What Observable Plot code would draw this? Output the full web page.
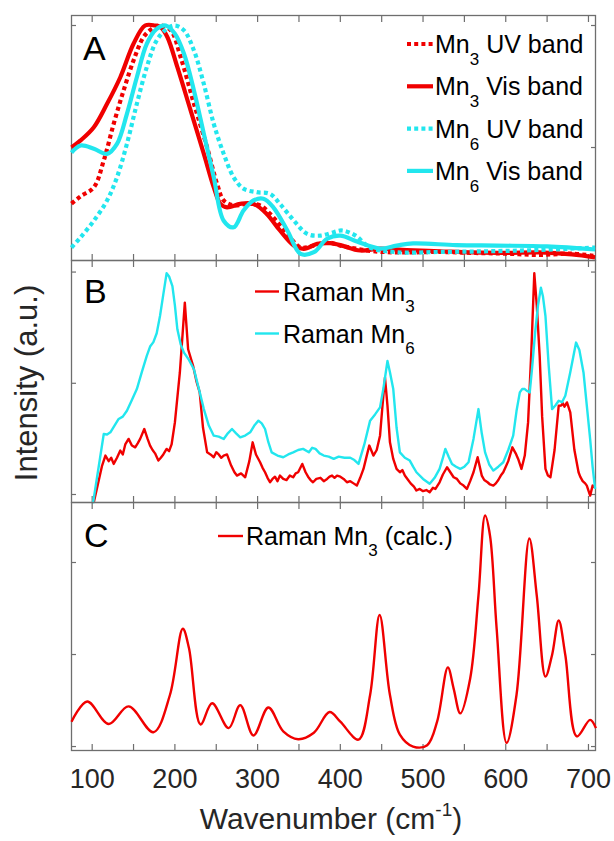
<!DOCTYPE html>
<html><head><meta charset="utf-8">
<script src="https://cdn.jsdelivr.net/npm/d3@7"></script>
<script src="https://cdn.jsdelivr.net/npm/@observablehq/plot@0.6"></script>
<style>
body{margin:0;background:#fff;}
#fig{position:relative;width:614px;height:841px;font-family:"Liberation Sans",Arial,Helvetica,sans-serif;overflow:hidden;}
#overlay{position:absolute;left:0;top:0;pointer-events:none;}
</style></head><body><div id="fig"></div>
<script>
// ---------- data (wavenumber cm-1, intensity a.u.) ----------
const xTicks = [100,150,200,250,300,350,400,450,500,550,600,650,700];
const xTickLabels = [100,200,300,400,500,600,700];
const yTicksA = [0.5, 1];
const yTicksB = [0, 1, 2];
const yTicksC = [0, 1, 2];

// Panel A: absorption-band profiles
const mn3UV = [[75,0.27],[86,0.30],[102,0.337],[114,0.447],[126,0.597],[138,0.734],[150,0.857],[162,0.952],[172,0.986],[182,1.0],[195,0.98],[207,0.87],[223,0.68],[239,0.50],[251,0.351],[259,0.283],[271,0.263],[287,0.269],[303,0.263],[319,0.214],[336,0.146],[352,0.091],[368,0.098],[384,0.112],[400,0.098],[420,0.085],[440,0.075],[470,0.07],[520,0.072],[560,0.068],[600,0.065],[640,0.06],[680,0.065],[708,0.055]];
const mn3Vis = [[75,0.50],[86,0.529],[102,0.583],[118,0.679],[134,0.788],[150,0.925],[164,1.0],[176,1.0],[183,0.993],[191,0.952],[203,0.829],[219,0.652],[235,0.474],[247,0.337],[255,0.269],[263,0.255],[279,0.269],[295,0.269],[311,0.228],[327,0.16],[344,0.098],[356,0.085],[372,0.105],[388,0.108],[400,0.10],[424,0.078],[448,0.086],[480,0.08],[520,0.075],[560,0.07],[600,0.068],[640,0.07],[680,0.062],[708,0.05]];
const mn6UV = [[75,0.09],[86,0.132],[102,0.20],[118,0.283],[130,0.378],[142,0.515],[154,0.679],[166,0.829],[178,0.939],[190,0.986],[200,1.0],[211,0.98],[223,0.898],[235,0.76],[247,0.597],[259,0.474],[271,0.378],[283,0.331],[299,0.317],[315,0.31],[327,0.269],[344,0.20],[360,0.146],[376,0.139],[392,0.153],[402,0.16],[418,0.14],[436,0.09],[468,0.071],[520,0.072],[580,0.075],[640,0.08],[708,0.09]];
const mn6Vis = [[75,0.479],[86,0.508],[102,0.495],[118,0.474],[130,0.515],[142,0.638],[154,0.788],[166,0.925],[178,0.986],[189,1.0],[200,0.966],[211,0.884],[223,0.734],[235,0.556],[247,0.378],[259,0.20],[271,0.173],[283,0.242],[295,0.283],[307,0.29],[319,0.255],[336,0.16],[352,0.064],[368,0.071],[384,0.126],[400,0.139],[420,0.115],[448,0.086],[468,0.098],[488,0.107],[540,0.10],[589,0.098],[650,0.095],[708,0.082]];

// Panel B: measured Raman spectra
const ramanMn3 = [[102,-0.07],[112,0.26],[116,0.35],[120,0.30],[123,0.33],[126,0.275],[130,0.33],[134,0.395],[137,0.36],[140,0.45],[144,0.50],[148,0.44],[152,0.424],[155,0.46],[158,0.50],[163,0.589],[167,0.50],[170,0.44],[173,0.40],[176,0.37],[180,0.305],[183,0.33],[186,0.36],[190,0.41],[193,0.39],[196,0.45],[200,0.648],[206,1.097],[212,1.725],[216,1.306],[222,1.157],[226,1.02],[230,0.918],[234,0.60],[239,0.379],[243,0.36],[247,0.335],[250,0.38],[253,0.36],[256,0.33],[259,0.35],[263,0.36],[268,0.26],[272,0.20],[275,0.17],[280,0.19],[285,0.155],[290,0.30],[294,0.469],[298,0.36],[303,0.29],[306,0.24],[309,0.20],[312,0.15],[315,0.11],[318,0.14],[321,0.16],[324,0.12],[327,0.17],[331,0.14],[335,0.13],[339,0.17],[343,0.155],[346,0.19],[349,0.20],[354,0.275],[358,0.20],[361,0.16],[364,0.13],[367,0.11],[371,0.14],[376,0.15],[380,0.12],[384,0.14],[387,0.16],[390,0.17],[393,0.15],[396,0.17],[400,0.16],[404,0.14],[408,0.11],[412,0.12],[416,0.10],[420,0.08],[424,0.15],[428,0.23],[431,0.32],[435,0.44],[440,0.35],[444,0.40],[448,0.529],[451,0.80],[454,1.052],[457,0.80],[460,0.469],[464,0.32],[468,0.23],[472,0.20],[475,0.22],[478,0.17],[482,0.13],[485,0.10],[489,0.07],[492,0.036],[496,0.05],[500,0.03],[504,0.04],[508,0.02],[512,0.06],[515,0.05],[520,0.11],[524,0.18],[529,0.245],[533,0.20],[537,0.155],[541,0.14],[545,0.10],[549,0.08],[553,0.05],[557,0.12],[561,0.20],[566,0.335],[571,0.17],[574,0.13],[578,0.11],[581,0.09],[585,0.08],[588,0.10],[591,0.13],[594,0.17],[597,0.20],[600,0.25],[603,0.30],[608,0.424],[612,0.37],[615,0.32],[619,0.23],[623,0.35],[627,0.648],[631,1.30],[634.5,1.99],[637.5,1.70],[641,1.247],[644,0.70],[648,0.23],[651,0.17],[654,0.155],[656,0.25],[659,0.40],[664,0.798],[667,0.80],[669,0.82],[671,0.79],[674,0.828],[678,0.738],[683,0.40],[688,0.20],[690,0.16],[693,0.12],[696,0.10],[698,0.08],[702,-0.01],[705,0.08],[708,0.065]];
const ramanMn6 = [[101,-0.08],[114,0.544],[118,0.54],[122,0.559],[127,0.62],[132,0.679],[137,0.70],[142,0.753],[148,0.85],[154,0.948],[160,1.10],[166,1.247],[170,1.33],[174,1.37],[178,1.45],[182,1.605],[186,1.80],[190,1.99],[193,1.96],[197,1.874],[200,1.70],[203,1.485],[207,1.35],[211,1.276],[217,1.21],[223,1.126],[229,0.95],[235,0.768],[241,0.62],[247,0.529],[253,0.52],[259,0.499],[264,0.55],[269,0.589],[274,0.55],[279,0.514],[285,0.53],[291,0.559],[296,0.62],[301,0.664],[305,0.64],[309,0.589],[313,0.47],[317,0.379],[324,0.35],[331,0.335],[337,0.36],[343,0.379],[349,0.40],[355,0.41],[362,0.38],[366,0.42],[370,0.41],[375,0.37],[380,0.35],[386,0.34],[392,0.32],[398,0.34],[405,0.33],[412,0.33],[417,0.31],[422,0.275],[429,0.45],[436,0.664],[442,0.72],[448,0.783],[452,0.95],[457,1.20],[460,1.10],[464,0.948],[468,0.60],[472,0.379],[478,0.33],[484,0.305],[488,0.25],[492,0.20],[500,0.14],[508,0.096],[514,0.15],[520,0.23],[524,0.33],[527,0.41],[531,0.34],[535,0.275],[540,0.25],[545,0.23],[550,0.25],[555,0.29],[561,0.50],[567,0.768],[571,0.55],[575,0.379],[580,0.27],[585,0.215],[591,0.25],[597,0.29],[603,0.40],[609,0.529],[613,0.75],[617,0.918],[620,0.95],[623,0.948],[626,0.93],[629,0.918],[632,1.15],[635.5,1.456],[639,1.70],[642.5,1.859],[645,1.78],[648,1.605],[652,1.15],[656,0.768],[660,0.80],[664,0.843],[668,0.83],[672,0.888],[678,1.10],[685,1.366],[689,1.30],[694,1.097],[698,0.80],[702,0.50],[705,0.25],[708,0.05]];

// Panel C: calculated Raman spectrum
const ramanMn3Calc = [[75,0.27],[94,0.49],[120,0.245],[144,0.436],[174,0.155],[194,0.56],[209.5,1.28],[217,1.07],[231,0.24],[245,0.47],[265,0.20],[279,0.45],[295,0.12],[313,0.425],[331,0.165],[349,0.08],[368,0.15],[387,0.375],[400,0.27],[422,0.075],[436,0.56],[447.5,1.43],[460,0.56],[472,0.13],[488,0.0],[505,0.015],[517,0.27],[530,0.86],[537,0.63],[545,0.36],[557,0.74],[567,1.64],[575,2.51],[581,2.29],[589,1.28],[601,0.04],[613,0.56],[628.5,2.26],[637.5,1.64],[648,0.76],[656,0.995],[664,1.37],[672,0.995],[686,0.11],[702,0.29],[709,0.20]];

// ---------- styling ----------
const RED = "#f00000", CYAN = "#22e6ee", GRAY = "#6e6e6e", INK = "#262626";
const X_DOMAIN = [75, 708.5];
const W = 614, ML = 71, MR = 19;

function axesMarks(yTicks) {
  const common = {stroke: GRAY, strokeWidth: 1.2, fill: "none", label: null};
  return [
    Plot.frame({stroke: GRAY, strokeWidth: 1.3}),
    Plot.axisX(xTicks, {...common, anchor: "bottom", tickSize: -6}),
    Plot.axisX(xTicks, {...common, anchor: "top", tickSize: -6}),
    Plot.axisY(yTicks, {...common, anchor: "left", tickSize: -5}),
    Plot.axisY(yTicks, {...common, anchor: "right", tickSize: -5})
  ];
}
function line(data, stroke, width, dash, curve) {
  return Plot.line(data, {x: d => d[0], y: d => d[1], stroke, strokeWidth: width,
    strokeDasharray: dash, strokeLinecap: "butt", strokeLinejoin: "round", curve});
}
function panel(top, height, mt, mb, yDomain, yTicks, marks) {
  return Plot.plot({
    width: W, height, marginLeft: ML, marginRight: MR, marginTop: mt, marginBottom: mb,
    x: {domain: X_DOMAIN}, y: {domain: yDomain},
    style: {position: "absolute", left: "0px", top: top + "px", background: "transparent",
      overflow: "visible", fontFamily: '"Liberation Sans", Arial, sans-serif', fontSize: "27px", color: INK},
    marks: [...axesMarks(yTicks), ...marks]
  });
}

const fig = document.getElementById("fig");

const pA = panel(0, 260, 15, 0, [0.037, 1.041], yTicksA, [
  line(mn3UV, RED, 4.2, "4,3.2", "catmull-rom"),
  line(mn3Vis, RED, 4.2, null, "catmull-rom"),
  line(mn6UV, CYAN, 4.2, "4,3.2", "catmull-rom"),
  line(mn6Vis, CYAN, 4.2, null, "catmull-rom")
]);
const pB = panel(260, 242, 0, 0, [-0.072, 2.104], yTicksB, [
  line(ramanMn3, RED, 2.4, null, "linear"),
  line(ramanMn6, CYAN, 2.4, null, "linear")
]);
const pC = panel(502, 298, 0, 50, [-0.043, 2.652], yTicksC, [
  line(ramanMn3Calc, RED, 2.4, null, "catmull-rom"),
  Plot.axisX(xTickLabels, {anchor: "bottom", tickSize: 0, tickPadding: 18, fontSize: 27,
    fill: INK, stroke: "none", label: null, tickFormat: d => String(d)})
]);
fig.append(pA, pB, pC);

// ---------- overlay: titles, panel letters, legends ----------
const NS = "http://www.w3.org/2000/svg";
const ov = document.createElementNS(NS, "svg");
ov.setAttribute("id", "overlay");
ov.setAttribute("width", W); ov.setAttribute("height", 841);
ov.setAttribute("font-family", '"Liberation Sans", Arial, sans-serif');
ov.setAttribute("fill", "#000");
fig.append(ov);

function el(tag, attrs, parent = ov) {
  const e = document.createElementNS(NS, tag);
  for (const k in attrs) e.setAttribute(k, attrs[k]);
  parent.append(e);
  return e;
}
function text(x, y, size, parts, attrs = {}) {
  const t = el("text", {x, y, "font-size": size, ...attrs});
  for (const p of parts) {
    const s = el("tspan", {}, t);
    if (p.sub) { s.setAttribute("font-size", p.size); s.setAttribute("dy", p.dy); }
    if (p.back) s.setAttribute("dy", p.back);
    s.textContent = p.t;
  }
  return t;
}

// panel letters
text(83, 60, 34, [{t: "A"}]);
text(84, 303, 34, [{t: "B"}]);
text(84, 547, 34, [{t: "C"}]);

// axis titles
text(0, 0, 31, [{t: "Intensity (a.u.)"}], {transform: "translate(37,383) rotate(-90)", "text-anchor": "middle", fill: INK});
text(331, 829, 30, [{t: "Wavenumber (cm"}, {t: "-1", sub: true, size: 19, dy: -13}, {t: ")", back: 13}], {"text-anchor": "middle", fill: INK});

// legends
const legendA = [
  {name: "3", label: " UV band", color: RED, dash: "4,3.2"},
  {name: "3", label: " Vis band", color: RED, dash: null},
  {name: "6", label: " UV band", color: CYAN, dash: "4,3.2"},
  {name: "6", label: " Vis band", color: CYAN, dash: null}
];
legendA.forEach((d, i) => {
  const cy = 44 + i * 42.3;
  el("line", {x1: 407, x2: 433, y1: cy, y2: cy, stroke: d.color, "stroke-width": 4.2, "stroke-dasharray": d.dash || "none"});
  text(435, cy + 9, 25, [{t: "Mn"}, {t: d.name, sub: true, size: 17, dy: 12}, {t: d.label, back: -12}]);
});
const legendB = [
  {name: "3", color: RED},
  {name: "6", color: CYAN}
];
legendB.forEach((d, i) => {
  const cy = 291.5 + i * 42;
  el("line", {x1: 255, x2: 279, y1: cy, y2: cy, stroke: d.color, "stroke-width": 2.4});
  text(283, cy + 9, 25, [{t: "Raman Mn"}, {t: d.name, sub: true, size: 17, dy: 11}]);
});
{
  const cy = 536;
  el("line", {x1: 218, x2: 243, y1: cy, y2: cy, stroke: RED, "stroke-width": 2.4});
  text(246, cy + 9, 25, [{t: "Raman Mn"}, {t: "3", sub: true, size: 17, dy: 11}, {t: " (calc.)", back: -11}]);
}
</script></body></html>
